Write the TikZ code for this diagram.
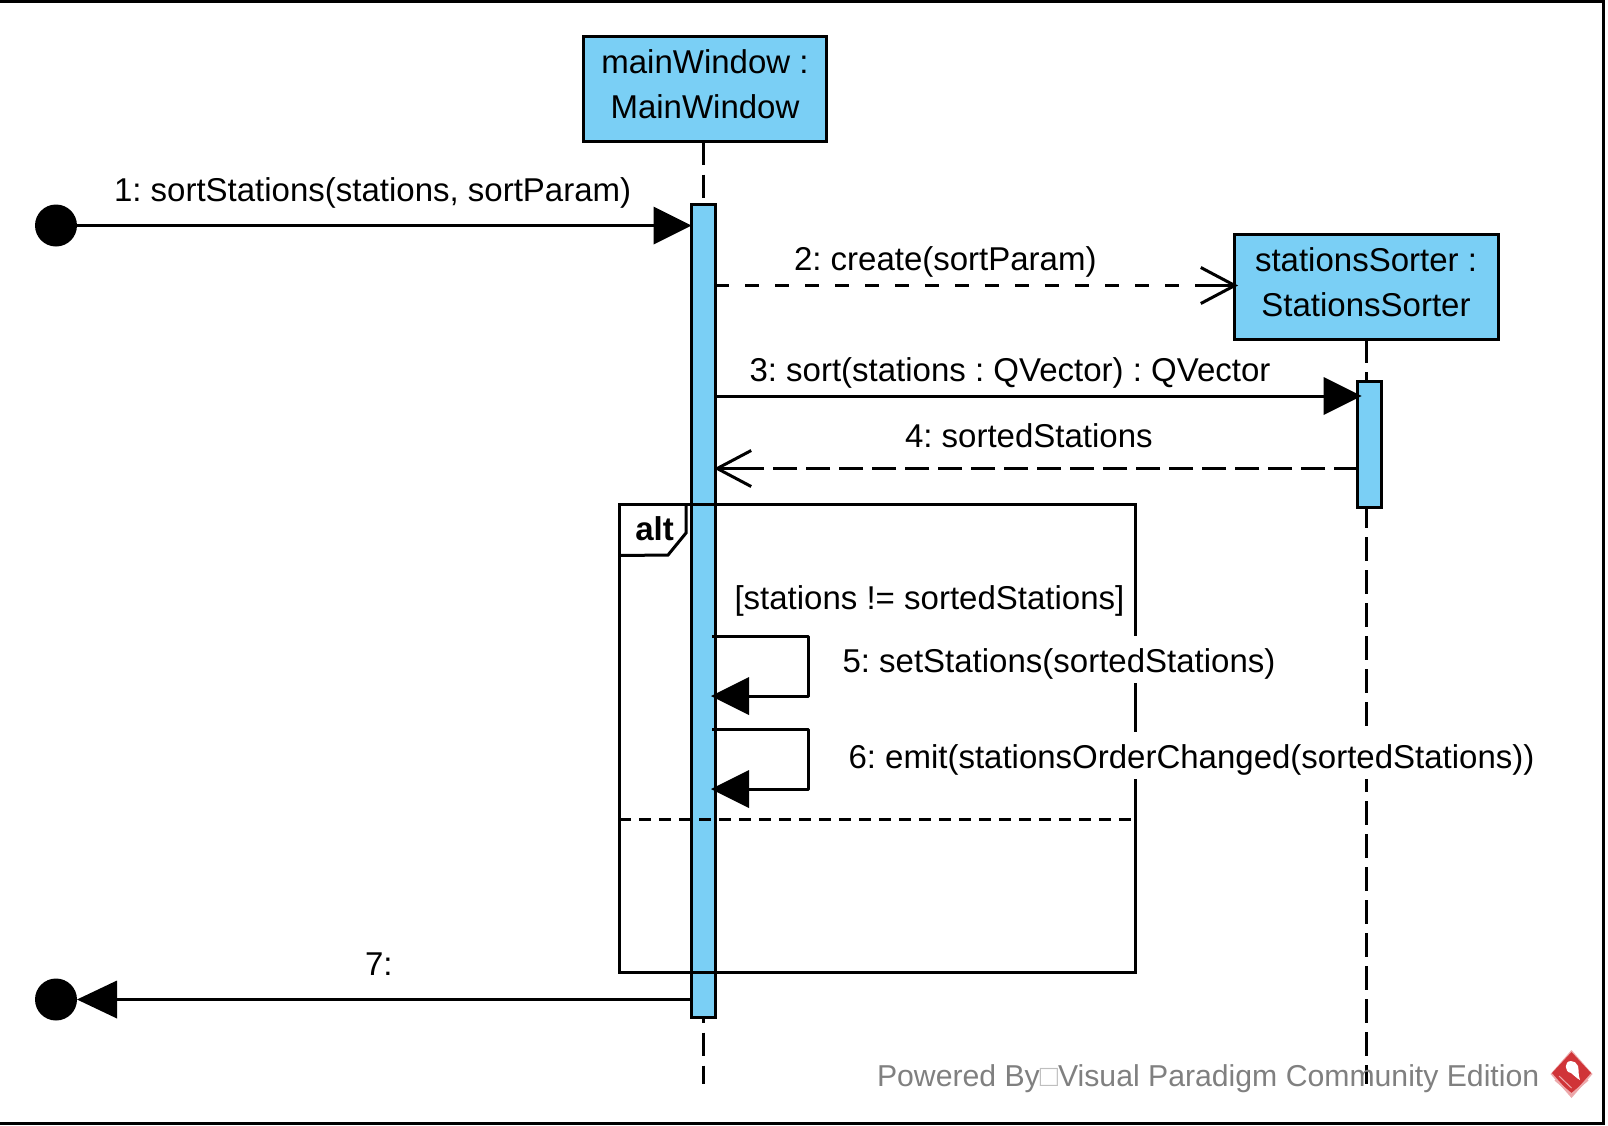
\documentclass[tikz,border=0pt]{standalone}
\usepackage{fontspec}
\setmainfont{Liberation Sans}
\usetikzlibrary{arrows.meta}
\AtBeginDocument{\frenchspacing}
\definecolor{vpblue}{HTML}{7ACFF5}
\definecolor{vpred}{HTML}{D03438}
\definecolor{vppink}{HTML}{EDA9AB}
\tikzset{
  x=1pt,y=-1pt,
  every node/.style={inner sep=0pt,outer sep=0pt},
  ln/.style={line width=3pt,draw=black},
  lifebox/.style={ln,fill=vpblue,align=center,font=\fontsize{33}{45}\selectfont},
  bar/.style={ln,fill=vpblue,minimum width=23.5pt,anchor=north west},
  dot/.style={circle,fill=black,minimum size=42pt},
  lifeline/.style={ln,dash pattern=on 23.5pt off 9.5pt},
  shortdash/.style={ln,dash pattern=on 14pt off 16pt},
  longdash/.style={ln,dash pattern=on 24pt off 9pt},
  divider/.style={ln,dash pattern=on 12pt off 8pt},
  solidtip/.style={ln,-{Triangle[length=38pt,width=38pt,line width=0pt]}},
  opentip/.style={-{Straight Barb[length=34pt,width=36pt,line width=3pt]}},
  msg/.style={anchor=base west,font=\fontsize{33}{38}\selectfont},
  msgbg/.style={msg,fill=white,text height=36pt,text depth=11pt},
}
\begin{document}
\begin{tikzpicture}
\useasboundingbox (0,0) rectangle (1608,1125);
\fill[white] (0,0) rectangle (1608,1125);
\draw[black,line width=3pt] (-5,1.5) -- (1603.5,1.5) -- (1603.5,1123.5) -- (-5,1123.5);
% boxes
\node[lifebox,minimum width=243pt,minimum height=105pt] (main) at (705,89) {\raisebox{10pt}{mainWindow :}\\\raisebox{10pt}{MainWindow}};
\node[lifebox,minimum width=264pt,minimum height=105pt] (sorter) at (1366,286.5) {\raisebox{9pt}{stationsSorter :}\\\raisebox{9pt}{StationsSorter}};
\coordinate (mainend) at (703.5,1084);
\coordinate (sorterend) at (1366.5,1084);
\draw[lifeline] (main.south -| mainend) -- (mainend);
\draw[lifeline] (sorter.south -| sorterend) -- (sorterend);
% activations
\node[bar,minimum height=813pt] (mainbar) at (691.5,204.5) {};
\node[bar,minimum height=126pt] (sorterbar) at (1357.5,381.5) {};
% frame
\node[ln,draw,anchor=north west,minimum width=516pt,minimum height=468pt] (frame) at (619,504) {};
\draw[ln] (frame.north west) ++(67,0) coordinate (tabr) -- ++(0,29) -- ++(-18,22) -- (frame.west |- 0,555.5);
\node[anchor=base,font=\fontsize{33}{38}\selectfont\bfseries] (altlabel) at (654.5,540) {alt};
\coordinate (divl) at (619,819);
\draw[divider] (divl) -- (divl -| frame.east);
% start/end dots
\node[dot] (start) at (56,225.5) {};
\node[dot] (finish) at (56,999.5) {};
% messages
\draw[solidtip] (start.east) -- (start.east -| mainbar.west);
\coordinate (m2) at (715,285.5);
\draw[shortdash] (m2) -- ([xshift=-3pt]m2 -| sorter.west);
\draw[ln,opentip] ([xshift=-34pt]m2 -| sorter.west) -- ([xshift=4pt]m2 -| sorter.west);
\coordinate (m3) at (715,396);
\draw[solidtip] (m3) -- ([xshift=4pt]m3 -| sorterbar.west);
\coordinate (m4) at (1358,468.5);
\draw[longdash] (m4) -- ([xshift=5pt]m4 -| mainbar.east);
\draw[ln,opentip] ([xshift=34pt]m4 -| mainbar.east) -- ([xshift=-1pt]m4 -| mainbar.east);
\coordinate (s5a) at (712,636);
\coordinate (s5b) at (713,696);
\draw[solidtip,line join=round] (s5a) -- (808,636) -- (808,696) -- ([xshift=-2pt]s5b);
\coordinate (s6a) at (712,729.5);
\coordinate (s6b) at (713,789);
\draw[solidtip,line join=round] (s6a) -- (808,729.5) -- (808,789) -- ([xshift=-2pt]s6b);
\draw[solidtip,-{Triangle[length=40pt,width=38pt,line width=0pt]}] (mainbar.west |- finish) -- (finish.east);
% labels
\node[msg] (l1) at (114,201) {1: sortStations(stations, sortParam)};
\node[msg] (l2) at (794,270) {2: create(sortParam)};
\node[msg] (l3) at (749.5,381) {3: sort(stations : QVector) : QVector};
\node[msg] (l4) at (905,447) {4: sortedStations};
\node[msg] (lg) at (734.5,609) {[stations != sortedStations]};
\node[msgbg] (l5) at (842.5,672) {5: setStations(sortedStations)};
\node[msgbg] (l6) at (848.5,768) {6: emit(stationsOrderChanged(sortedStations))};
\node[msg] (l7) at (365,975) {7:};
% watermark
\node[anchor=base west,font=\fontsize{30.2}{35}\selectfont,text=black!50] (wm) at (877,1086) {Powered By\textcolor{black!25}{□}Visual Paradigm Community Edition};
% logo
\fill[vppink] (1571.5,1050) -- (1592.5,1074) -- (1571.5,1098) -- (1550.5,1074) -- cycle;
\fill[vpred] (1571.5,1052) -- (1591,1073) -- (1571.5,1095) -- (1552,1073) -- cycle;
\draw[vppink,line width=1.5pt] (1555,1080) -- (1571.5,1094) -- (1588,1080);
\draw[vppink,line width=1pt] (1559,1076) -- (1571.5,1088);
\fill[white] (1571,1061) .. controls (1564,1061) and (1564,1072) .. (1571,1073) .. controls (1574,1075) and (1576,1078) .. (1580,1080) .. controls (1578,1075) and (1579,1070) .. (1578,1066) .. controls (1577,1063) and (1574,1061) .. (1571,1061) -- cycle;
\end{tikzpicture}
\end{document}
